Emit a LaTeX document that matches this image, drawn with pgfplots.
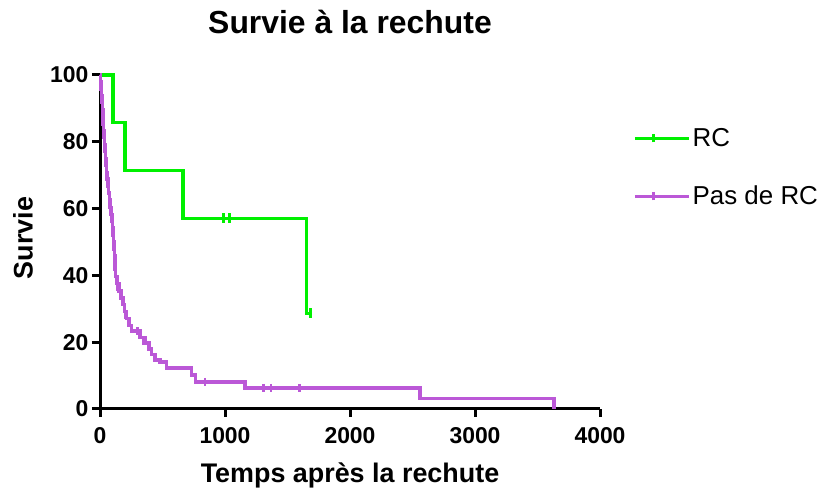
\documentclass[border=0pt]{standalone}
\usepackage{pgfplots}
\pgfplotsset{compat=1.18}
\usepackage{fontspec}
\setmainfont{Liberation Sans}
\definecolor{rcgreen}{RGB}{0,240,0}
\definecolor{rcpurple}{RGB}{187,88,215}
\begin{document}
\begin{tikzpicture}[x=1bp,y=1bp]
\path[use as bounding box] (0,0) rectangle (825,488);
\begin{axis}[
  at={(100bp,79bp)}, anchor=origin,
  scale only axis, width=500bp, height=334bp,
  xmin=0, xmax=4000, ymin=0, ymax=100,
  axis lines=left, axis line style={-, line width=3bp, black},
  clip=false,
  xtick={0,1000,2000,3000,4000},
  ytick={0,20,40,60,80,100},
  tick align=outside, major tick length=8bp,
  tick style={line width=3bp, black},
  /pgf/number format/assume math mode=true,
  /pgf/number format/1000 sep={},
  ticklabel style={font=\fontsize{23}{26}\selectfont\bfseries},
  xticklabel style={yshift=-7bp},
  xlabel={Temps après la rechute},
  ylabel={Survie},
  xlabel style={font=\fontsize{27}{30}\selectfont\bfseries, at={(rel axis cs:0.5,-0.2186)}, anchor=base},
  ylabel style={font=\fontsize{27}{30}\selectfont\bfseries, at={(rel axis cs:-0.154,0.512)}, anchor=center},
  title={Survie à la rechute},
  title style={font=\fontsize{32}{36}\selectfont\bfseries, at={(rel axis cs:0.5,1.107)}, anchor=base},
  legend style={draw=none, fill=none, at={(rel axis cs:1.06,0.852)}, anchor=north west,
    font=\fontsize{26}{30}\selectfont, row sep=34bp},
  legend cell align=left,
  legend image code/.code={
    \draw[line width=3.5bp] (0bp,0bp) -- (37bp,0bp);
    \draw[line width=2.5bp] (18.5bp,-4bp) -- (18.5bp,4bp);
    \path (37bp,0bp) -- (54bp,0bp);
  },
]
\addplot[const plot, color=rcgreen, line width=3.5bp] coordinates {
(0,100) (104,85.7) (198,71.4) (664,57.1) (1650,28.6) (1685,28.6)
};
\addlegendentry{RC}
\addplot[const plot, color=rcpurple, line width=3.5bp] coordinates {
(0,100) (4,97.9) (8,95.8) (12,93.8) (16,91.7) (19,89.6) (22,87.5) (25,85.4)
(28,83.3) (31,81.3) (35,79.2) (39,77.1) (43,75.0) (47,72.9) (52,70.8) (57,68.8)
(62,66.7) (68,64.6) (74,62.5) (80,60.4) (87,58.3) (94,56.3) (100,54.2) (105,52.1)
(109,50.0) (112,47.9) (115,45.8) (118,43.8) (121,41.7) (124,39.6) (135,37.5)
(150,35.4) (168,33.3) (182,31.3) (195,29.2) (210,27.1) (230,25.0) (250,23.3)
(320,21.4) (360,19.7) (390,18.0) (410,16.3) (440,14.6) (480,14.1) (530,12.3)
(730,10.2) (765,8.1) (1160,6.3) (2560,3.2) (3630,0)
};
\addlegendentry{Pas de RC}
\addplot[only marks, mark=|, mark size=5bp, color=rcgreen, mark options={line width=2.5bp}, forget plot] coordinates {
(987,57.1) (1037,57.1) (1685,28.6)
};
\addplot[only marks, mark=|, mark size=4bp, color=rcpurple, mark options={line width=2.5bp}, forget plot] coordinates {
(140,36.6) (205,28.2) (300,23.3) (345,20.5) (840,8.1) (1307,6.3) (1368,6.3) (1595,6.3)
};
\end{axis}
\end{tikzpicture}
\end{document}
